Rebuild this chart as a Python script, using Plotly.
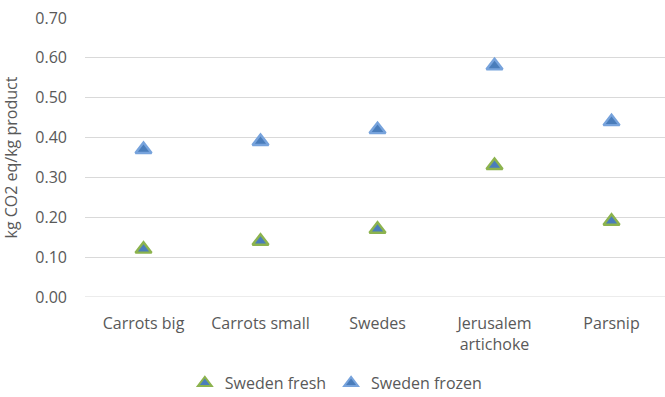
import plotly.graph_objects as go

categories = ["Carrots big", "Carrots small", "Swedes", "Jerusalem<br>artichoke", "Parsnip"]
sweden_fresh = [0.12, 0.14, 0.17, 0.33, 0.19]
sweden_frozen = [0.37, 0.39, 0.42, 0.58, 0.44]
y_ticks = [0.0, 0.1, 0.2, 0.3, 0.4, 0.5, 0.6, 0.7]
y_title = "kg CO2 eq/kg product"

x_pos = list(range(len(categories)))
font_family = "Open Sans, Noto Sans, sans-serif"
text_color = "#595959"
grid_color = "#d9d9d9"
blue_fill = "#4a7dbb"

fig = go.Figure()
fig.add_trace(go.Scatter(
    x=x_pos, y=sweden_fresh, mode="markers", name="Sweden fresh",
    marker=dict(symbol="triangle-up", size=14, color=blue_fill,
                line=dict(color="#8cb34e", width=2.4)),
))
fig.add_trace(go.Scatter(
    x=x_pos, y=sweden_frozen, mode="markers", name="Sweden frozen",
    marker=dict(symbol="triangle-up", size=14, color=blue_fill,
                line=dict(color="#77a3dc", width=2.4)),
))

fig.update_layout(
    width=665, height=397,
    margin=dict(l=85, r=0, t=18, b=100),
    paper_bgcolor="white", plot_bgcolor="white",
    font=dict(family=font_family, color=text_color, size=16),
    showlegend=True,
    legend=dict(orientation="h", xref="container", yref="container",
                x=0.505, xanchor="center", y=0.035, yanchor="middle",
                font=dict(size=16, color=text_color), itemwidth=30,
                tracegroupgap=0, itemsizing="constant"),
    xaxis=dict(
        range=[-0.5, 4.457], tickmode="array", tickvals=x_pos, ticktext=categories,
        showgrid=False, zeroline=False, showline=False, ticks="",
        tickfont=dict(size=16, color=text_color), ticklabelstandoff=15,
    ),
    yaxis=dict(
        range=[0, 0.7], tickmode="array", tickvals=y_ticks,
        ticktext=[f"{v:.2f}" for v in y_ticks],
        showgrid=True, gridcolor=grid_color, gridwidth=1,
        zeroline=False, showline=False, ticks="",
        tickfont=dict(size=16, color=text_color), ticklabelstandoff=17,
    ),
)
# Vertical axis title, centred on the plot area
fig.add_annotation(
    text=y_title, textangle=-90, showarrow=False,
    xref="paper", yref="paper", x=0, y=0.5, xanchor="center", yanchor="middle",
    xshift=-75, font=dict(size=16, color=text_color),
)
fig.add_shape(type="line", xref="paper", yref="y", x0=0, x1=1, y0=0, y1=0,
              line=dict(color=grid_color, width=1), layer="below")

fig.write_html("out.html")
